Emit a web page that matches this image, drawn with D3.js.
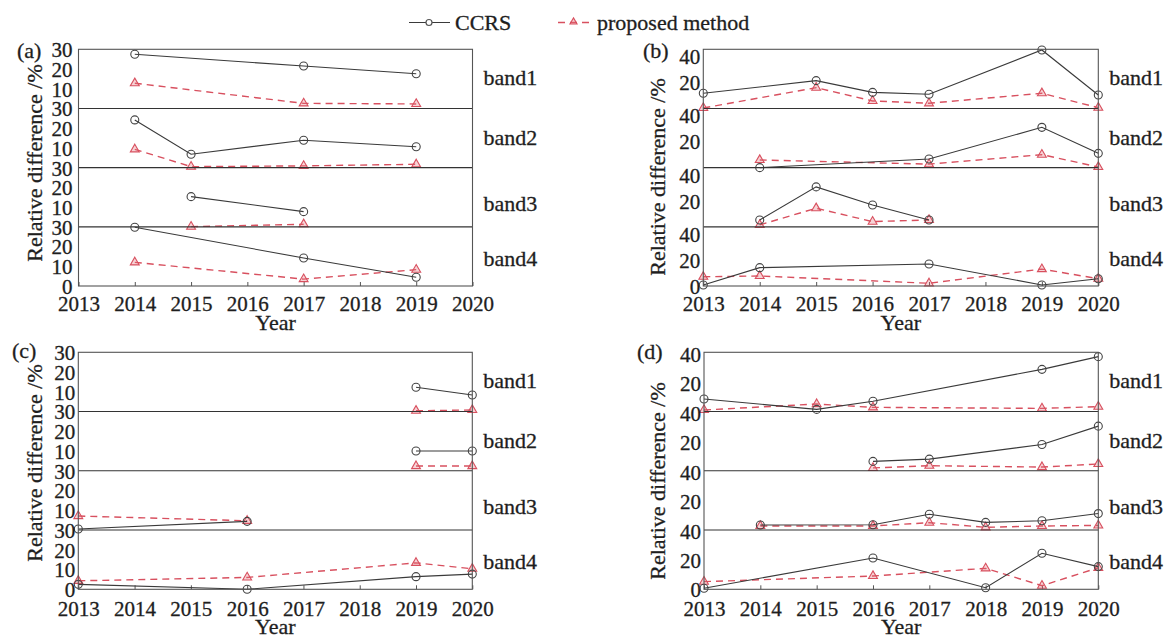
<!DOCTYPE html>
<html><head><meta charset="utf-8">
<script src="https://cdn.jsdelivr.net/npm/d3@7"></script>
<style>
html,body{margin:0;padding:0;background:#fff;}
text{font-family:"Liberation Serif","Times New Roman",serif;fill:#1e1e1e;stroke:#1e1e1e;stroke-width:0.3px;}
</style></head>
<body><svg id="c" width="1169" height="640"></svg>
<script>
const years = [2013, 2014, 2015, 2016, 2017, 2018, 2019, 2020];
const bands = ["band1", "band2", "band3", "band4"];
const seriesNames = ["CCRS", "proposed method"];
const panelNames = ["(a)", "(b)", "(c)", "(d)"];
const N = null;

// values per band (band1..band4), one entry per year 2013..2020
const aCCRS = [
  [N, 27.5, N, N, 21.5, N, 17.6, N],
  [N, 24.2, 6.8, N, 13.9, N, 10.6, N],
  [N, N, 15.3, N, 7.7, N, N, N],
  [N, 29.8, N, N, 14.2, N, 4.4, N]
];
const aProp = [
  [N, 12.8, N, N, 2.6, N, 2.3, N],
  [N, 9.3, 0.5, N, 0.9, N, 1.7, N],
  [N, N, 0.1, N, 1.3, N, N, N],
  [N, 12.0, N, N, 3.5, N, 8.3, N]
];
const bCCRS = [
  [11.7, N, 21.4, 12.4, 10.9, N, 45.0, 10.4],
  [N, 0.0, N, N, 6.7, N, 31.0, 11.0],
  [N, 5.3, 30.7, 16.8, 5.3, N, N, N],
  [0.8, 14.1, N, N, 16.9, N, 0.8, 5.6]
];
const bProp = [
  [0.4, N, 16.0, 5.8, 4.0, N, 11.7, 0.6],
  [N, 5.9, N, N, 2.7, N, 10.0, 0.5],
  [N, 1.5, 14.3, 4.0, 5.3, N, N, N],
  [7.1, 7.7, N, N, 2.1, N, 13.0, 5.6]
];
const cCCRS = [
  [N, N, N, N, N, N, 12.3, 8.4],
  [N, N, N, N, N, N, 10.0, 10.0],
  [0.5, N, N, 4.4, N, N, N, N],
  [2.5, N, N, 0.0, N, N, 6.4, 7.7]
];
const cProp = [
  [N, N, N, N, N, N, 0.4, 0.8],
  [N, N, N, N, N, N, 2.4, 2.4],
  [7.1, N, N, 4.7, N, N, N, N],
  [4.3, N, N, 6.0, N, N, 13.4, 10.4]
];
const dCCRS = [
  [8.7, N, 1.5, 7.1, N, N, 29.2, 38.0],
  [N, N, N, 6.5, 8.1, N, 18.2, 30.9],
  [N, 3.5, N, 3.7, 10.9, 5.3, 6.4, 11.4],
  [0.7, N, N, 21.7, N, 1.1, 24.9, 15.7]
];
const dProp = [
  [1.1, N, 5.2, 2.9, N, N, 2.2, 3.4],
  [N, N, N, 2.0, 3.5, N, 2.6, 4.7],
  [N, 2.8, N, 2.8, 5.1, 1.9, 2.8, 3.2],
  [5.3, N, N, 9.2, N, 14.5, 2.5, 14.9]
];
const ticks30 = [10, 20, 30];
const ticks40 = [20, 40];

const panels = [
  {name: panelNames[0], ccrs: aCCRS, prop: aProp, left: 78.5, right: 472.5, top: 49.3, bottom: 286, ymax: 30, ticks: ticks30, ygap: 6, xpad: 10,
   lab: [17, 50.5], title: [34, 163], year: 330},
  {name: panelNames[1], ccrs: bCCRS, prop: bProp, left: 703.3, right: 1098.3, top: 49.3, bottom: 286, ymax: 45.5, ticks: ticks40, ygap: 3, xpad: 10,
   lab: [643, 50.5], title: [657, 177], year: 330},
  {name: panelNames[2], ccrs: cCCRS, prop: cProp, left: 78.3, right: 472.3, top: 352.3, bottom: 589.3, ymax: 30, ticks: ticks30, ygap: 3, xpad: 12,
   lab: [12, 350], title: [34, 463], year: 634},
  {name: panelNames[3], ccrs: dCCRS, prop: dProp, left: 704, right: 1098.3, top: 352.3, bottom: 589.3, ymax: 41, ticks: ticks40, ygap: 3, xpad: 12,
   lab: [637, 351.5], title: [657, 481], year: 634}
];
const bandLabelOffset = [-1.5, -1, 6.5, 2];

const svg = d3.select("#c");
const black = "#3a3a3a";
const red = "#d8505f";

// legend
const lg = svg.append("g");
lg.append("line").attr("x1", 409).attr("x2", 450).attr("y1", 22.5).attr("y2", 22.5).attr("stroke", black).attr("stroke-width", 1.2);
lg.append("circle").attr("cx", 429).attr("cy", 22.5).attr("r", 3).attr("fill", "#fff").attr("stroke", "#555").attr("stroke-width", 1.2);
lg.append("text").attr("x", 455).attr("y", 22.5).attr("dominant-baseline", "central").attr("font-size", 22).text(seriesNames[0]);
lg.append("line").attr("x1", 558).attr("x2", 589).attr("y1", 22.5).attr("y2", 22.5).attr("stroke", red).attr("stroke-width", 1.3).attr("stroke-dasharray", "7,5");
lg.append("path").attr("d", d3.symbol(d3.symbolTriangle, 22)()).attr("transform", "translate(573.5,22)").attr("fill", "rgba(230,110,120,0.35)").attr("stroke", red).attr("stroke-width", 1.1);
lg.append("text").attr("x", 597).attr("y", 22.5).attr("dominant-baseline", "central").attr("font-size", 22).text(seriesNames[1]);

panels.forEach(p => {
  const g = svg.append("g");
  const x = d3.scaleLinear().domain([2013, 2020]).range([p.left, p.right]);
  const bh = (p.bottom - p.top) / 4;

  // x axis
  const xa = g.append("g").attr("transform", `translate(0,${p.bottom})`)
    .call(d3.axisBottom(x).tickValues(years).tickFormat(d3.format("d")).tickSize(-4).tickPadding(p.xpad));
  xa.select(".domain").remove();
  xa.selectAll("line").attr("stroke", "#555");
  xa.selectAll("text").attr("font-size", 21);

  bands.forEach((b, i) => {
    const bt = p.top + i * bh, bb = bt + bh;
    const y = d3.scaleLinear().domain([0, p.ymax]).range([bb, bt]);
    const tv = i === 3 ? [0].concat(p.ticks) : p.ticks;
    const ya = g.append("g").attr("transform", `translate(${p.left},0)`)
      .call(d3.axisLeft(y).tickValues(tv).tickSize(0).tickPadding(p.ygap));
    ya.select(".domain").remove();
    ya.selectAll("text").attr("font-size", 21).attr("dy", "0.35em");

    if (i > 0) {
      g.append("line").attr("x1", p.left).attr("x2", p.right).attr("y1", bt).attr("y2", bt)
        .attr("stroke", "#333").attr("stroke-width", 1.1);
    }
    g.append("text").attr("x", p.right + 11).attr("y", (bt + bb) / 2 + bandLabelOffset[i])
      .attr("dominant-baseline", "central").attr("font-size", 22).text(b);

    const series = [
      {vals: p.prop[i], color: red, dash: "7,5", sym: "tri"},
      {vals: p.ccrs[i], color: black, dash: null, sym: "circ"}
    ];
    series.forEach(s => {
      const pts = years.map((yr, k) => ({yr, v: s.vals[k]})).filter(d => d.v !== null);
      const line = d3.line().x(d => x(d.yr)).y(d => y(d.v));
      const path = g.append("path").datum(pts).attr("d", line).attr("fill", "none")
        .attr("stroke", s.color).attr("stroke-width", s.sym === "tri" ? 1.4 : 1.1);
      if (s.dash) path.attr("stroke-dasharray", s.dash);
      if (s.sym === "circ") {
        g.selectAll(null).data(pts).enter().append("circle")
          .attr("cx", d => x(d.yr)).attr("cy", d => y(d.v)).attr("r", 4)
          .attr("fill", "none").attr("stroke", "#444").attr("stroke-width", 1.1);
      } else {
        g.selectAll(null).data(pts).enter().append("path")
          .attr("d", d3.symbol(d3.symbolTriangle, 34)())
          .attr("transform", d => `translate(${x(d.yr)},${y(d.v)})`)
          .attr("fill", "rgba(230,110,120,0.3)").attr("stroke", red).attr("stroke-width", 1.1);
      }
    });
  });

  // frame
  g.append("rect").attr("x", p.left).attr("y", p.top).attr("width", p.right - p.left).attr("height", p.bottom - p.top)
    .attr("fill", "none").attr("stroke", "#555").attr("stroke-width", 1.1);

  g.append("text").attr("x", p.lab[0]).attr("y", p.lab[1]).attr("dominant-baseline", "central").attr("font-size", 22).text(p.name);
  g.append("text").attr("transform", `translate(${p.title[0]},${p.title[1]}) rotate(-90)`)
    .attr("text-anchor", "middle").attr("dominant-baseline", "central").attr("font-size", 22).text("Relative difference /%");
  g.append("text").attr("x", (p.left + p.right) / 2).attr("y", p.year).attr("text-anchor", "middle").attr("font-size", 22).text("Year");
});
</script></body></html>
